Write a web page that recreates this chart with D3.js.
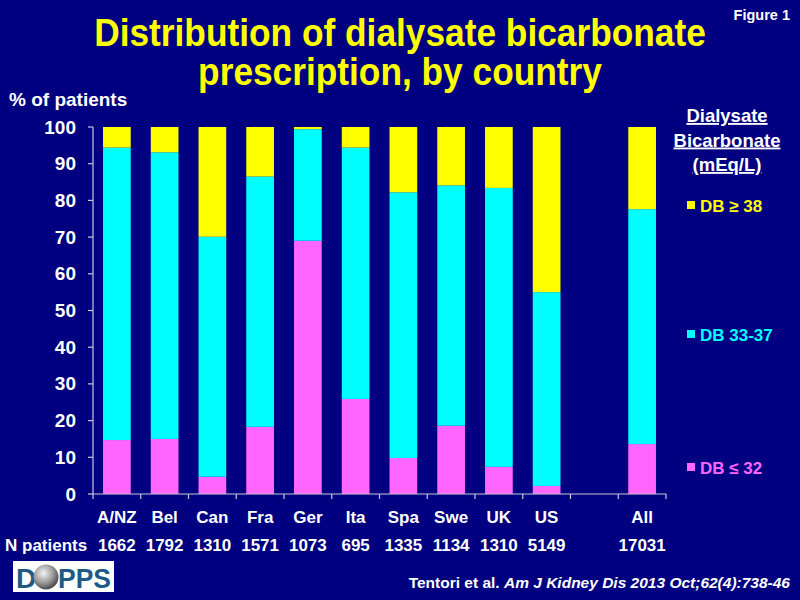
<!DOCTYPE html>
<html>
<head>
<meta charset="utf-8">
<script src="https://cdn.jsdelivr.net/npm/d3@7"></script>
<style>
  html, body { margin: 0; padding: 0; background: #000080; }
  svg { display: block; }
  text { font-family: "Liberation Sans", Arial, sans-serif; font-weight: bold; }
</style>
</head>
<body>
<svg id="chart" width="800" height="600"></svg>
<script>
// ---- data ----
const categories = ["A/NZ", "Bel", "Can", "Fra", "Ger", "Ita", "Spa", "Swe", "UK", "US", "All"];
const nPatients  = ["1662", "1792", "1310", "1571", "1073", "695", "1335", "1134", "1310", "5149", "17031"];
const seriesNames = ["DB \u2264 32", "DB 33-37", "DB \u2265 38"];
const dbLow  = [14.7, 15.0, 4.7, 18.3, 69.0, 25.9, 9.8, 18.6, 7.4, 2.2, 13.6];
const dbMid  = [79.7, 78.1, 65.4, 68.2, 30.4, 68.5, 72.4, 65.5, 76.0, 52.8, 64.0];
const dbHigh = [5.6, 6.9, 29.9, 13.5, 0.6, 5.6, 17.8, 15.9, 16.6, 45.0, 22.4];
const yTicks = [0, 10, 20, 30, 40, 50, 60, 70, 80, 90, 100];
const colors = ["#FF66FF", "#00FFFF", "#FFFF00"];

// ---- layout ----
const svg = d3.select("#chart");
svg.append("rect").attr("width", 800).attr("height", 600).attr("fill", "#000080");

const slots = categories.slice(0, 10).concat(["__gap__"], categories.slice(10));
const pad = 0.42;
const x = d3.scaleBand().domain(slots).range([93, 666]).paddingInner(pad).paddingOuter(pad / 2);
const y = d3.scaleLinear().domain([0, 100]).range([494, 127]);

const rows = categories.map((c, i) => ({ cat: c, low: dbLow[i], mid: dbMid[i], high: dbHigh[i] }));
const stack = d3.stack().keys(["low", "mid", "high"])(rows);

// bars
const g = svg.append("g");
stack.forEach((layer, li) => {
  g.selectAll(null).data(layer).join("rect")
    .attr("x", d => x(d.data.cat))
    .attr("width", x.bandwidth())
    .attr("y", d => y(Math.min(100, d[1])))
    .attr("height", d => y(d[0]) - y(Math.min(100, d[1])))
    .attr("fill", colors[li]);
});

// y axis
const axisColor = "#c8c8d8";
svg.append("line").attr("x1", 93).attr("x2", 93).attr("y1", y(100)).attr("y2", y(0))
  .attr("stroke", axisColor).attr("stroke-width", 1.2);
yTicks.forEach(t => {
  svg.append("line").attr("x1", 88).attr("x2", 93).attr("y1", y(t)).attr("y2", y(t))
    .attr("stroke", axisColor).attr("stroke-width", 1.2);
  svg.append("text").attr("x", 76).attr("y", y(t) + 6.5).attr("text-anchor", "end")
    .attr("fill", "#fff").attr("font-size", 19).text(t);
});

// x axis
svg.append("line").attr("x1", 93).attr("x2", 666).attr("y1", y(0)).attr("y2", y(0))
  .attr("stroke", axisColor).attr("stroke-width", 1.2);
const step = x.step();
const edges = slots.map(s => x(s) - step * pad / 2).concat([x.range()[1]]);
edges.forEach(e => {
  svg.append("line").attr("x1", e).attr("x2", e).attr("y1", y(0)).attr("y2", y(0) + 5)
    .attr("stroke", axisColor).attr("stroke-width", 1.2);
});
categories.forEach((c, i) => {
  const cx = x(c) + x.bandwidth() / 2;
  svg.append("text").attr("x", cx).attr("y", 523).attr("text-anchor", "middle")
    .attr("fill", "#fff").attr("font-size", 17).text(c);
  svg.append("text").attr("x", cx).attr("y", 551).attr("text-anchor", "middle")
    .attr("fill", "#fff").attr("font-size", 17).text(nPatients[i]);
});
svg.append("text").attr("x", 5).attr("y", 551).attr("fill", "#fff").attr("font-size", 17).text("N patients");

// axis title
svg.append("text").attr("x", 9).attr("y", 106).attr("fill", "#fff").attr("font-size", 19).text("% of patients");

// title: horizontally condensed text, fitted by a transform
function fittedText(str, cx, cy, size, width, fill) {
  const t = svg.append("text").attr("text-anchor", "middle").attr("fill", fill)
    .attr("font-size", size).text(str);
  const natural = t.node().getComputedTextLength();
  t.attr("transform", `translate(${cx},${cy}) scale(${width / natural},1)`);
  return t;
}
fittedText("Distribution of dialysate bicarbonate", 400, 46, 38, 612, "#FFFF00");
fittedText("prescription, by country", 400, 85, 38, 404, "#FFFF00");

svg.append("text").attr("x", 790).attr("y", 20).attr("text-anchor", "end")
  .attr("fill", "#fff").attr("font-size", 14.5).text("Figure 1");

// legend
["Dialysate", "Bicarbonate", "(mEq/L)"].forEach((t, i) => {
  svg.append("text").attr("x", 727).attr("y", 122 + i * 24.5).attr("text-anchor", "middle")
    .attr("fill", "#fff").attr("font-size", 18.5).attr("text-decoration", "underline").text(t);
});
const legendY = [212, 341, 474];
[2, 1, 0].forEach((si, k) => {
  svg.append("rect").attr("x", 687).attr("y", legendY[k] - 11).attr("width", 8).attr("height", 8)
    .attr("fill", colors[si]);
  svg.append("text").attr("x", 700).attr("y", legendY[k]).attr("fill", colors[si])
    .attr("font-size", 17).text(seriesNames[si]);
});

// citation
const cite = svg.append("text").attr("x", 790).attr("y", 588).attr("text-anchor", "end")
  .attr("fill", "#fff").attr("font-size", 15.5);
cite.append("tspan").text("Tentori et al. ");
cite.append("tspan").attr("font-style", "italic").text("Am J Kidney Dis 2013 Oct;62(4):738-46");

// DOPPS logo
const defs = svg.append("defs");
const grad = defs.append("radialGradient").attr("id", "globe").attr("cx", "40%").attr("cy", "35%").attr("r", "65%");
grad.append("stop").attr("offset", "0%").attr("stop-color", "#f4f4f4");
grad.append("stop").attr("offset", "60%").attr("stop-color", "#9a9a9a");
grad.append("stop").attr("offset", "100%").attr("stop-color", "#4a4a4a");
svg.append("rect").attr("x", 13).attr("y", 561).attr("width", 101).attr("height", 31).attr("fill", "#fff");
svg.append("text").attr("x", 16).attr("y", 588).attr("fill", "#1f5a86").attr("font-size", 28).text("D");
svg.append("circle").attr("cx", 46).attr("cy", 577).attr("r", 12.5).attr("fill", "url(#globe)");
const pps = svg.append("text").attr("fill", "#1f5a86").attr("font-size", 28).text("PPS");
const ppsW = pps.node().getComputedTextLength();
pps.attr("transform", `translate(58,588) scale(${53 / ppsW},1)`);
</script>
</body>
</html>
